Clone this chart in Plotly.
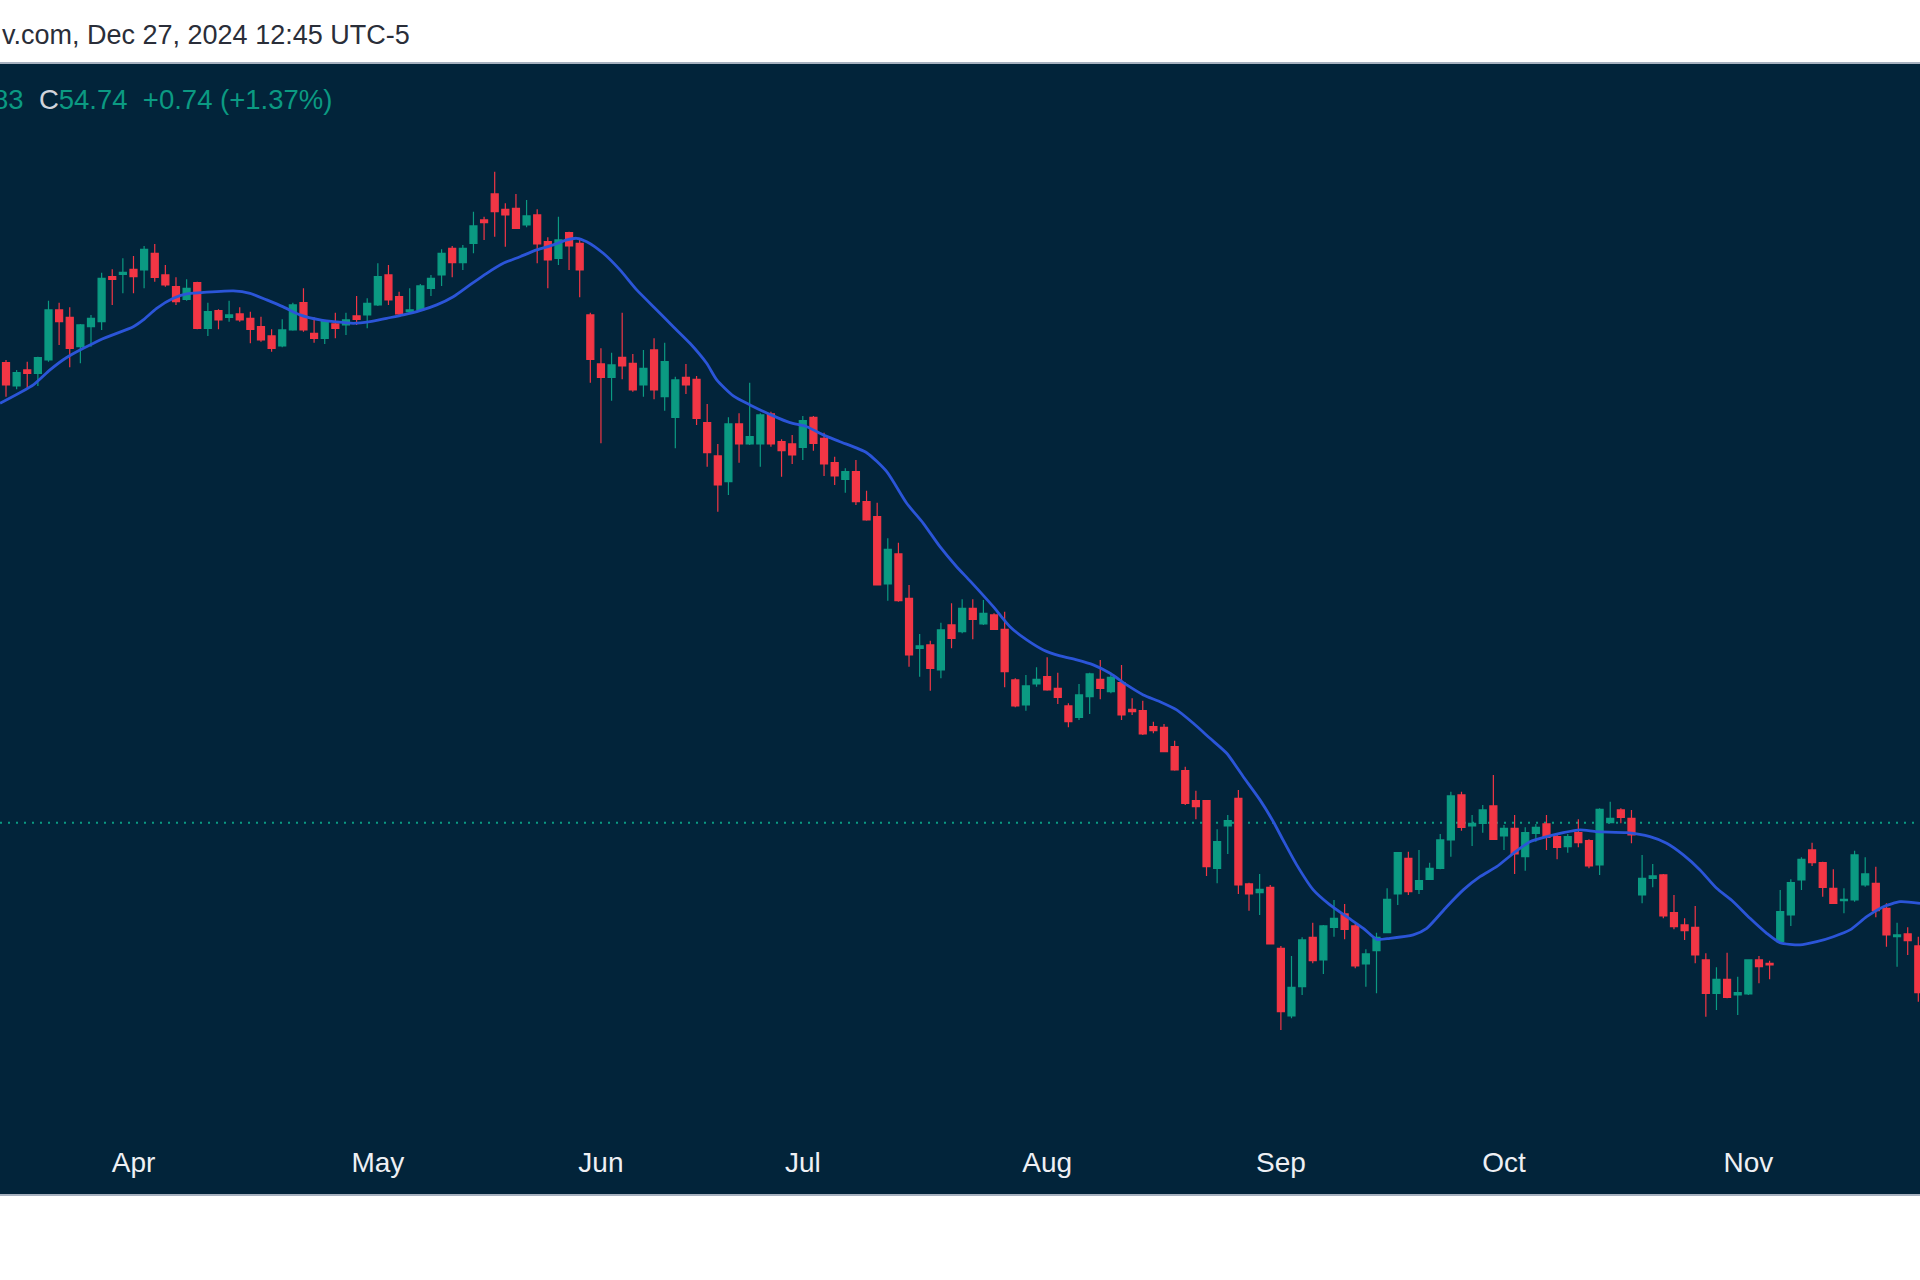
import plotly.graph_objects as go

# ---------------- data ----------------
months = ["Apr", "May", "Jun", "Jul", "Aug", "Sep", "Oct", "Nov"]
month_start_idx = [12, 35, 56, 75, 98, 120, 141, 164]

open_ = [77.74, 76.58, 77.38, 77.21, 77.88, 80.38, 80.01, 78.54, 79.54, 79.79,
         82.04, 82.16, 82.41, 82.38, 83.21, 82.13, 81.54, 80.91, 81.74, 79.46,
         80.34, 80.01, 80.18, 79.96, 79.54, 79.08, 78.58, 79.38, 80.74, 79.21,
         78.96, 79.68, 79.63, 80.08, 80.13, 80.63, 82.13, 81.04, 80.29, 80.38,
         81.46, 82.13, 83.46, 82.74, 83.71, 84.88, 86.18, 85.41, 85.46, 84.63,
         85.13, 83.79, 82.96, 84.24, 83.71, 80.13, 77.68, 77.01, 78.01, 77.71,
         76.63, 78.38, 76.04, 75.01, 77.01, 76.91, 74.74, 73.08, 71.79, 74.68,
         73.68, 73.68, 75.18, 73.79, 73.68, 73.51, 75.01, 73.96, 72.74, 71.91,
         72.29, 70.79, 70.04, 66.68, 68.18, 65.96, 63.46, 63.63, 62.38, 64.63,
         64.29, 65.46, 64.68, 65.13, 64.41, 61.88, 60.63, 61.68, 62.04, 61.46,
         60.58, 60.01, 61.04, 61.91, 61.29, 61.74, 60.41, 60.34, 59.54, 59.51,
         58.54, 57.34, 55.84, 55.84, 52.46, 54.58, 55.96, 51.68, 51.24, 51.51,
         48.46, 45.08, 46.54, 49.01, 47.88, 49.51, 50.18, 49.58, 47.68, 48.34,
         49.24, 51.18, 52.96, 51.41, 51.91, 52.46, 53.88, 56.13, 54.58, 54.71,
         55.58, 54.08, 54.46, 53.04, 54.21, 54.68, 54.04, 53.54, 54.24, 53.84,
         52.63, 54.74, 55.38, 54.96, 51.13, 51.96, 52.13, 50.24, 49.63, 49.51,
         47.88, 46.21, 46.91, 46.13, 46.18, 47.88, 47.71, 48.79, 50.13, 51.88,
         53.38, 52.74, 51.46, 50.84, 50.88, 51.63, 51.71, 50.46, 49.04, 49.18,
         48.58]
high = [77.88, 77.38, 77.79, 78.04, 80.84, 80.74, 80.51, 79.68, 80.13, 82.24,
        82.41, 82.96, 83.08, 83.58, 83.68, 82.63, 82.01, 81.91, 81.79, 80.74,
        80.41, 80.84, 80.51, 80.29, 80.04, 79.41, 79.91, 80.74, 81.46, 80.01,
        79.88, 80.24, 80.24, 81.08, 80.96, 82.71, 82.63, 81.29, 81.46, 81.68,
        82.13, 83.41, 83.58, 83.63, 85.29, 85.04, 87.29, 85.71, 86.18, 85.88,
        85.41, 84.01, 85.04, 84.29, 83.96, 80.24, 78.46, 78.24, 80.24, 78.18,
        78.38, 78.96, 78.74, 77.04, 77.68, 77.08, 75.68, 73.68, 75.01, 75.21,
        76.74, 75.21, 75.29, 73.91, 74.13, 75.08, 75.08, 74.24, 73.04, 72.46,
        72.88, 71.34, 70.74, 68.96, 68.74, 66.63, 64.18, 63.84, 64.74, 65.71,
        65.91, 65.91, 65.88, 65.21, 65.29, 61.96, 62.13, 62.51, 63.01, 62.24,
        60.71, 61.68, 62.24, 62.88, 62.24, 62.63, 60.96, 60.84, 59.79, 59.68,
        58.84, 57.54, 56.34, 55.88, 54.41, 55.13, 56.38, 51.74, 52.18, 51.63,
        48.58, 48.08, 49.01, 49.74, 49.63, 50.88, 50.68, 49.68, 48.41, 49.24,
        51.46, 53.24, 53.29, 53.38, 52.74, 54.18, 56.29, 56.29, 55.13, 55.63,
        57.13, 54.63, 55.13, 54.51, 54.68, 55.13, 54.21, 54.18, 54.91, 53.91,
        55.46, 55.79, 55.46, 55.38, 53.13, 52.68, 52.18, 51.13, 49.96, 50.58,
        48.21, 47.51, 48.24, 47.04, 47.88, 48.08, 47.84, 51.38, 51.91, 53.01,
        53.74, 52.79, 52.41, 51.46, 53.34, 53.01, 52.54, 50.71, 49.74, 49.51,
        49.04]
low = [76.04, 76.41, 76.41, 76.58, 77.79, 78.63, 77.51, 77.71, 78.54, 79.38,
       80.63, 81.21, 81.21, 81.46, 81.79, 81.54, 80.63, 80.84, 79.41, 79.08,
       79.41, 79.79, 79.79, 78.71, 78.79, 78.29, 78.51, 79.34, 79.29, 78.74,
       78.68, 78.96, 79.13, 79.63, 79.46, 80.58, 80.63, 80.04, 80.21, 80.34,
       81.08, 81.58, 82.01, 82.38, 83.21, 83.88, 84.04, 83.54, 84.46, 84.51,
       82.71, 81.46, 82.63, 82.38, 81.01, 76.74, 73.71, 75.84, 76.91, 76.29,
       76.04, 75.91, 75.34, 73.46, 76.18, 74.63, 72.54, 70.29, 71.13, 72.74,
       73.63, 72.54, 73.54, 72.04, 72.68, 72.88, 73.34, 72.08, 71.63, 71.24,
       70.63, 69.84, 66.63, 65.84, 65.79, 62.54, 62.04, 61.34, 61.96, 63.46,
       64.21, 63.91, 64.63, 64.38, 61.51, 60.51, 60.34, 61.54, 61.34, 60.68,
       59.51, 59.88, 60.18, 60.91, 61.21, 59.88, 60.13, 59.13, 59.21, 58.29,
       57.34, 55.63, 54.91, 52.08, 51.71, 53.18, 51.18, 50.34, 50.13, 48.68,
       44.38, 44.96, 46.13, 47.71, 47.18, 49.04, 48.91, 47.46, 46.54, 46.21,
       49.21, 50.63, 51.13, 51.18, 51.88, 52.41, 53.04, 54.34, 53.58, 54.24,
       53.88, 53.38, 52.18, 52.34, 53.79, 53.38, 52.91, 53.24, 53.51, 52.46,
       52.13, 54.71, 54.71, 53.71, 50.71, 51.51, 49.96, 49.41, 48.88, 47.71,
       45.04, 45.38, 45.96, 45.13, 46.13, 46.71, 46.91, 48.79, 49.58, 51.38,
       52.58, 51.04, 50.68, 50.21, 50.79, 51.54, 50.01, 48.54, 47.54, 48.13,
       45.79]
close = [76.63, 77.24, 77.21, 77.99, 80.38, 79.79, 78.46, 79.63, 79.96, 81.96,
         81.91, 82.26, 82.04, 83.41, 82.01, 81.63, 80.79, 81.46, 79.46, 80.29,
         79.88, 80.13, 79.88, 79.41, 78.88, 78.46, 79.38, 80.63, 79.38, 78.96,
         79.79, 79.46, 79.88, 79.91, 80.71, 82.04, 80.88, 80.18, 80.38, 81.58,
         81.96, 83.21, 82.74, 83.46, 84.58, 84.74, 85.29, 85.13, 84.46, 85.08,
         83.68, 82.88, 83.88, 83.58, 82.38, 77.91, 77.01, 77.63, 77.58, 76.38,
         77.46, 76.38, 77.79, 76.88, 76.63, 74.96, 73.24, 71.63, 74.68, 73.68,
         74.04, 75.13, 73.68, 73.34, 73.13, 74.84, 73.71, 72.68, 72.08, 72.29,
         70.79, 69.88, 66.63, 68.41, 65.84, 63.13, 63.58, 62.46, 64.38, 63.96,
         65.46, 64.91, 65.21, 64.41, 62.29, 60.58, 61.58, 61.91, 61.38, 61.01,
         59.79, 61.13, 62.18, 61.46, 62.01, 60.13, 60.29, 59.18, 59.34, 58.29,
         57.38, 55.71, 55.54, 52.54, 53.79, 54.84, 51.63, 51.18, 51.41, 48.68,
         45.29, 46.51, 48.88, 47.84, 49.58, 49.96, 49.41, 47.58, 48.18, 49.01,
         50.91, 53.24, 51.29, 51.84, 52.46, 53.88, 56.08, 54.51, 54.71, 55.38,
         53.91, 54.46, 53.18, 54.24, 54.51, 54.01, 53.51, 54.04, 53.74, 52.58,
         55.41, 54.96, 55.01, 54.13, 51.96, 52.08, 50.08, 49.54, 49.34, 48.13,
         46.21, 46.91, 46.01, 46.24, 47.88, 47.54, 47.63, 50.29, 51.74, 52.91,
         52.74, 51.51, 50.71, 50.91, 53.13, 52.18, 50.34, 49.13, 49.13, 48.84,
         46.24]
bar_index = list(range(len(open_)))

# moving-average line, read at points along the curve (x in bar-index units)
ma_index = [-0.56, 2.57, 4.14, 5.71, 8.85, 11.98, 12.92, 14.18, 15.75, 17.01,
            18.26, 21.40, 22.97, 24.54, 26.10, 27.67, 29.56, 32.69, 34.26, 35.83,
            37.40, 38.97, 40.54, 42.10, 43.67, 45.25, 46.81, 48.38, 49.95, 51.52,
            52.78, 53.72, 54.66, 56.22, 57.79, 59.37, 61.25, 62.81, 64.38, 65.95,
            66.90, 68.46, 70.03, 72.22, 73.80, 75.37, 76.93, 78.50, 81.01, 82.90,
            84.78, 86.34, 87.91, 89.48, 90.74, 92.93, 94.50, 96.08, 97.64, 99.21,
            100.78, 102.34, 103.92, 105.49, 107.05, 108.62, 110.19, 111.76, 113.33, 114.90,
            116.46, 118.03, 119.29, 120.20, 121.49, 123.05, 124.62, 126.19, 127.76, 129.02,
            130.27, 132.46, 133.73, 135.61, 137.17, 138.74, 140.31, 141.88, 143.45, 145.02,
            146.58, 148.16, 149.73, 152.55, 154.74, 156.31, 157.88, 159.45, 161.02, 162.58,
            164.16, 165.73, 166.98, 168.86, 170.44, 172.00, 173.57, 175.14, 176.71, 178.28,
            180.16]
ma_value = [75.71, 76.63, 77.38, 78.00, 78.88, 79.54, 79.88, 80.46, 80.96, 81.18,
            81.24, 81.33, 81.21, 80.88, 80.53, 80.13, 79.88, 79.71, 79.79, 79.96,
            80.13, 80.34, 80.63, 81.04, 81.63, 82.21, 82.71, 83.04, 83.38, 83.63,
            83.88, 83.96, 83.79, 83.21, 82.38, 81.38, 80.38, 79.54, 78.71, 77.71,
            76.88, 76.08, 75.63, 75.08, 74.74, 74.54, 74.13, 73.79, 73.24, 72.29,
            70.71, 69.71, 68.54, 67.54, 66.83, 65.54, 64.54, 63.88, 63.38, 63.08,
            62.88, 62.63, 62.21, 61.63, 61.13, 60.79, 60.38, 59.71, 58.96, 58.21,
            57.04, 55.88, 54.79, 53.88, 52.63, 51.38, 50.63, 50.04, 49.46, 48.91,
            48.96, 49.13, 49.46, 50.54, 51.38, 52.04, 52.54, 53.21, 53.79, 54.04,
            54.24, 54.38, 54.29, 54.24, 54.04, 53.71, 53.13, 52.38, 51.46, 50.79,
            49.96, 49.21, 48.74, 48.63, 48.79, 49.04, 49.38, 50.04, 50.54, 50.79,
            50.71]

last_close = 54.74
header_text = "v.com, Dec 27, 2024 12:45 UTC-5"
legend_low_tail = "83"
legend_close = "54.74"
legend_change = "+0.74 (+1.37%)"

# ---------------- styling ----------------
W, H = 1920, 1280
TOP, BOTTOM = 64, 1140          # plot area in page pixels
PANEL_BOTTOM = 1194
BG = "#02243a"
UP = "#0b9a82"
DOWN = "#f23645"
MA_COLOR = "#2b55d8"
FONT = "Liberation Sans, Arial, sans-serif"

plot_h = BOTTOM - TOP


def py(Y):
    """page pixel -> paper y"""
    return (BOTTOM - Y) / plot_h


fig = go.Figure()

fig.add_trace(go.Candlestick(
    x=bar_index, open=open_, high=high, low=low, close=close,
    increasing=dict(line=dict(color=UP, width=1.2), fillcolor=UP),
    decreasing=dict(line=dict(color=DOWN, width=1.2), fillcolor=DOWN),
    whiskerwidth=0, showlegend=False, hoverinfo="skip",
))

fig.add_trace(go.Scatter(
    x=ma_index, y=ma_value, mode="lines",
    line=dict(color=MA_COLOR, width=2.8, shape="spline", smoothing=0.6),
    showlegend=False, hoverinfo="skip",
))

shapes = [
    # white header band and footer band
    dict(type="rect", xref="paper", yref="paper", x0=0, x1=1, y0=py(63), y1=py(-20),
         fillcolor="white", line=dict(width=0), layer="below"),
    dict(type="rect", xref="paper", yref="paper", x0=0, x1=1, y0=py(1400), y1=py(PANEL_BOTTOM + 1),
         fillcolor="white", line=dict(width=0), layer="below"),
    # thin border lines
    dict(type="line", xref="paper", yref="paper", x0=0, x1=1, y0=py(63), y1=py(63),
         line=dict(color="#a7b1bf", width=2), layer="above"),
    dict(type="line", xref="paper", yref="paper", x0=0, x1=1, y0=py(PANEL_BOTTOM + 1), y1=py(PANEL_BOTTOM + 1),
         line=dict(color="#a7b1bf", width=2), layer="above"),
    # last-price dotted line
    dict(type="line", xref="paper", yref="y", x0=0, x1=1, y0=last_close, y1=last_close,
         line=dict(color=UP, width=2, dash="2px,6px"), layer="below"),
]

annotations = [
    dict(xref="paper", yref="paper", x=0, y=py(35), xanchor="left", yanchor="middle",
         text=header_text, showarrow=False,
         font=dict(family=FONT, size=27, color="#2a2e39")),
    dict(xref="paper", yref="paper", x=-9 / W, y=py(99), xanchor="left", yanchor="middle",
         text=(f"<span style='color:{UP}'>{legend_low_tail}</span>\u00a0\u00a0"
               f"<span style='color:#d1d4dc'>C</span>"
               f"<span style='color:{UP}'>{legend_close}\u00a0\u00a0{legend_change}</span>"),
         showarrow=False, font=dict(family=FONT, size=27.5, color=UP)),
]

# y range so that page pixel Y maps to price 95.875 - Y/20
y_top = 95.875 - TOP / 20
y_bot = 95.875 - BOTTOM / 20
x_left = (0 - 6) / 10.624
x_right = (W - 6) / 10.624

fig.update_layout(
    width=W, height=H,
    margin=dict(l=0, r=0, t=TOP, b=H - BOTTOM, pad=0),
    paper_bgcolor=BG, plot_bgcolor=BG,
    boxgap=0, boxgroupgap=0.34,
    shapes=shapes, annotations=annotations,
    hovermode=False,
    xaxis=dict(
        range=[x_left, x_right], rangeslider=dict(visible=False),
        tickmode="array", tickvals=month_start_idx, ticktext=months,
        tickfont=dict(family=FONT, size=28, color="#eef0f4"),
        showgrid=False, zeroline=False, showline=False, ticks="",
        ticklabelstandoff=3,
    ),
    yaxis=dict(range=[y_bot, y_top], visible=False, showgrid=False, zeroline=False),
)

fig.write_html(
    "out.html",
    config={"displayModeBar": False},
    post_script="document.body.style.margin='0px';document.body.style.padding='0px';",
)
